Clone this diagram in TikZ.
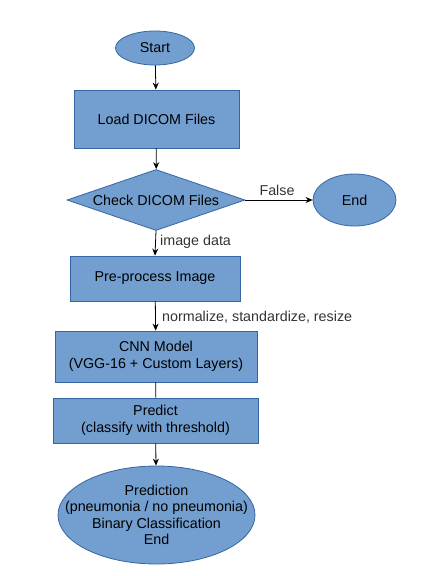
\documentclass[tikz,border=0pt]{standalone}
\usepackage{fontspec}
\setmainfont{Liberation Sans}
\usetikzlibrary{shapes.geometric,arrows.meta}
\definecolor{boxfill}{HTML}{729FCF}
\definecolor{boxline}{HTML}{3465A4}
\definecolor{labtext}{HTML}{333333}
\begin{document}
\begin{tikzpicture}[x=1pt,y=-1pt,
  base/.style={draw=boxline,fill=boxfill,line width=0.8pt,inner sep=0pt,align=center,font=\fontsize{14.3}{16.5}\selectfont,text=black},
  oval/.style={base,ellipse},
  procbox/.style={base,rectangle},
  decision/.style={base,diamond,aspect=2.9},
  conn/.style={line width=0.8pt,-{Stealth[length=7pt,width=6pt]}},
  plainconn/.style={line width=0.8pt},
  plaintext/.style={inner sep=0pt,align=center,font=\fontsize{14.3}{16.3}\selectfont,text=black},
  lab/.style={font=\fontsize{14.3}{16.5}\selectfont,text=labtext,inner sep=0pt}]
\useasboundingbox (0,0) rectangle (445,576);
\node[oval,minimum width=79pt,minimum height=34pt] (start) at (155,48) {Start};
\node[procbox,minimum width=165pt,minimum height=58pt] (load) at (156.5,119) {Load DICOM Files};
\node[decision,minimum width=178pt,minimum height=61pt] (check) at (156,200) {Check DICOM Files};
\node[oval,minimum width=83pt,minimum height=52pt] (end) at (354.5,200) {End};
\node[procbox,minimum width=170pt,minimum height=45pt] (pre) at (155,278.5) {Pre-process Image};
\node[procbox,minimum width=202pt,minimum height=51pt] (cnn) at (156,356.5) {CNN Model\\(VGG-16 + Custom Layers)};
\node[procbox,minimum width=205pt,minimum height=45pt] (pred) at (155.5,420.5) {Predict\\(classify with threshold)};
\node[oval,minimum width=197pt,minimum height=98pt] (res) at (156.5,515) {};
\node[plaintext] (restext) at (res.center) {Prediction\\(pneumonia / no pneumonia)\\Binary Classification\\End};
\draw[conn] (start) -- (load);
\draw[conn] (load) -- (check);
\draw[conn] (check.east) -- (end.west);
\draw[conn] (check.south) -- (pre.north);
\draw[conn] (pre) -- (cnn);
\draw[plainconn] (cnn) -- (pred);
\draw[conn] (pred) -- (res);
\node[lab,anchor=south] (lfalse) at (277,196) {False};
\node[lab,anchor=west] (limg) at (160,242) {image data};
\node[lab,anchor=west] (lnorm) at (162,317) {normalize, standardize, resize};
\end{tikzpicture}
\end{document}
